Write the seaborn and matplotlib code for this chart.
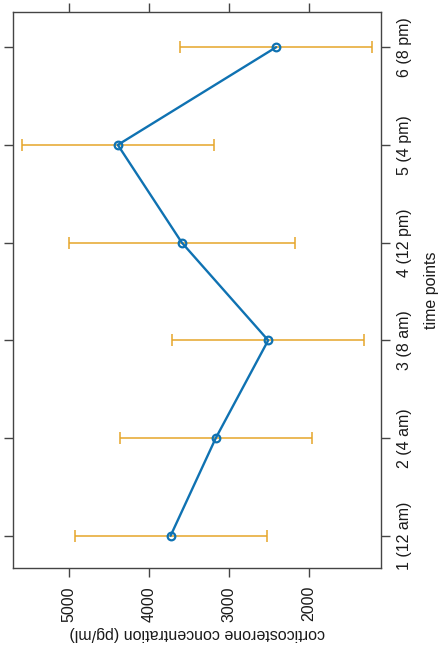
import numpy as np
import pandas as pd
import matplotlib
matplotlib.use("Agg")
import matplotlib.pyplot as plt
import seaborn as sns

# Dados (gráfico girado 90°)
time_points = [1, 2, 3, 4, 5, 6]
time_labels = ['1 (12 am)', '2 (4 am)', '3 (8 am)', '4 (12 pm)', '5 (4 pm)', '6 (8 pm)']
mean_conc = [3730, 3165, 2510, 3590, 4390, 2410]
err_conc = [1200, 1200, 1200, 1410, 1200, 1200]
conc_ticks = [5000, 4000, 3000, 2000]

df = pd.DataFrame({'time': time_points, 'conc': mean_conc, 'err': err_conc})

sns.set_style('white')
plt.rcParams['font.family'] = ['Liberation Sans', 'DejaVu Sans']

line_color = '#0F72B2'
err_color = '#E6A52A'
axis_color = '#444444'

fig = plt.figure(figsize=(4.45, 6.61), dpi=100)
ax = fig.add_axes([13 / 445, 1 - 568 / 661, 368 / 445, 556 / 661])

# barras de erro
ax.errorbar(df['conc'], df['time'], xerr=df['err'], fmt='none',
            ecolor=err_color, elinewidth=1.1, capsize=4.5, capthick=1.1, zorder=2)

# linha das médias
sns.lineplot(data=df, x='conc', y='time', sort=False, estimator=None, ax=ax,
             color=line_color, linewidth=1.7, marker='o', markersize=5.5,
             markerfacecolor='none', markeredgecolor=line_color,
             markeredgewidth=1.6, zorder=3)

ax.set_xlim(5700, 1100)
ax.set_ylim(0.67, 6.36)

ax.set_xticks(conc_ticks)
ax.set_xticklabels([str(t) for t in conc_ticks], rotation=90, fontsize=11.5, color='#1a1a1a')
ax.set_yticks(time_points)
ax.set_yticklabels(time_labels, rotation=90, va='center', fontsize=11.5, color='#1a1a1a')

ax.tick_params(axis='both', which='both', direction='out', length=6.5, width=1.0,
               color=axis_color, top=True, bottom=True, left=True, right=True,
               labeltop=False, labelbottom=True, labelleft=False, labelright=True)
ax.tick_params(axis='x', pad=6.5)
ax.tick_params(axis='y', pad=5)

for s in ax.spines.values():
    s.set_color(axis_color)
    s.set_linewidth(1.0)

ax.set_xlabel('corticosterone concentration (pg/ml)', rotation=180, fontsize=11.5,
              color='#1a1a1a')
ax.xaxis.set_label_coords(0.5, -0.105)

ax.yaxis.set_label_position('right')
ax.set_ylabel('time points', rotation=90, fontsize=11.5, color='#1a1a1a', va='center')
ax.yaxis.set_label_coords((432 - 13) / 368, 0.5)

ax.grid(False)

fig.savefig('out.png', dpi=100)
